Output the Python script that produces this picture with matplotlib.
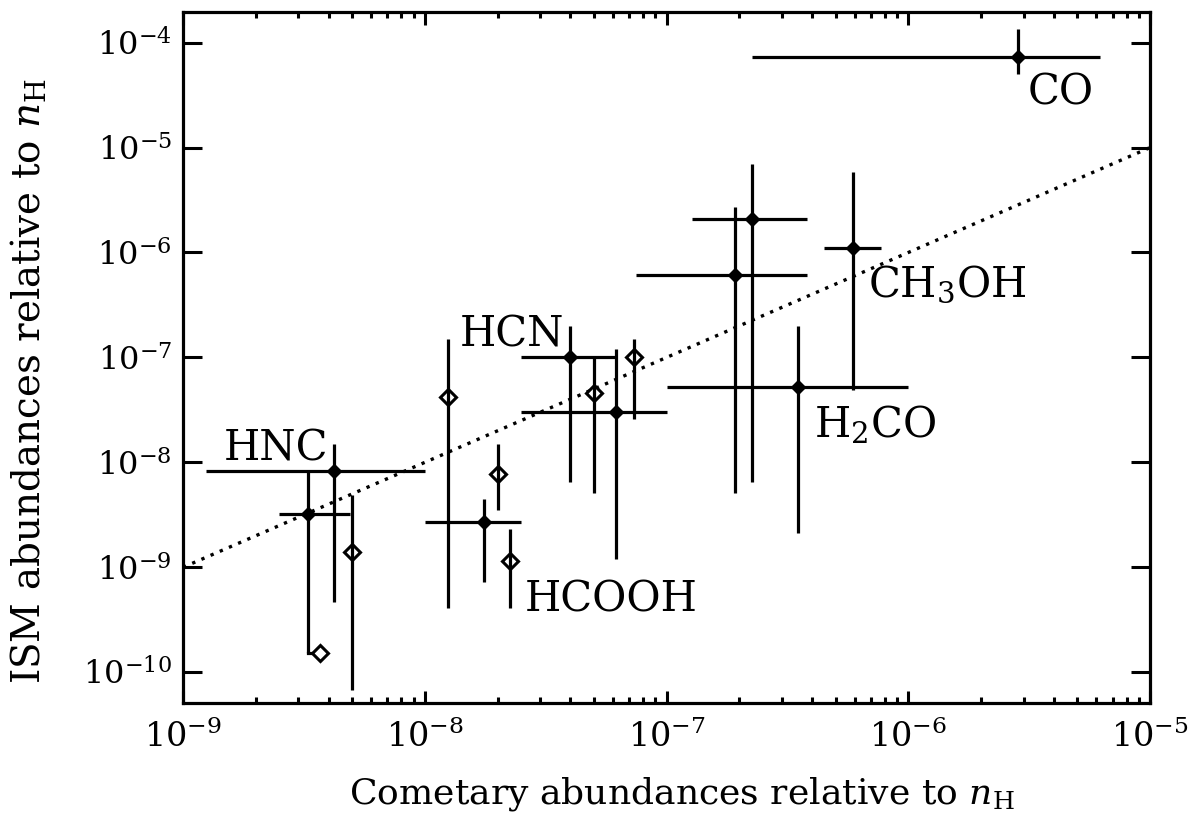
import matplotlib
matplotlib.use("Agg")
import matplotlib.pyplot as plt
from matplotlib.ticker import LogLocator, NullFormatter, NullLocator
import numpy as np

plt.rcParams['font.family'] = ['DejaVu Serif']
plt.rcParams['mathtext.fontset'] = 'dejavuserif'

# filled points: comet abundance, ISM abundance, and error bar ends
fx = [2.84e-6, 2.25e-7, 1.92e-7, 5.9e-7, 3.5e-7, 4.0e-8, 6.2e-8, 1.75e-8, 4.2e-9, 3.3e-9]
fy = [7.3e-5, 2.1e-6, 6.1e-7, 1.1e-6, 5.2e-8, 1.0e-7, 3.0e-8, 2.7e-9, 8.3e-9, 3.2e-9]
fx_lo = [2.25e-7, 1.27e-7, 7.5e-8, 4.5e-7, 1.0e-7, 2.5e-8, 2.5e-8, 1.0e-8, 1.25e-9, 2.5e-9]
fx_hi = [6.2e-6, 3.8e-7, 3.8e-7, 7.7e-7, 1.0e-6, 6.2e-8, 1.0e-7, 2.5e-8, 1.0e-8, 4.9e-9]
fy_lo = [5.0e-5, 6.5e-9, 5.1e-9, 4.9e-8, 2.1e-9, 6.5e-9, 1.2e-9, 7.2e-10, 4.7e-10, 1.52e-10]
fy_hi = [1.34e-4, 6.9e-6, 2.7e-6, 5.9e-6, 2.0e-7, 2.0e-7, 1.2e-7, 4.5e-9, 1.5e-8, 8.4e-9]

# open diamonds (vertical error bars only)
ox = [5.0e-8, 7.3e-8, 1.25e-8, 2.0e-8, 2.25e-8, 5.0e-9]
oy = [4.6e-8, 1.0e-7, 4.2e-8, 7.8e-9, 1.16e-9, 1.4e-9]
oy_lo = [5.1e-9, 2.6e-8, 4.1e-10, 3.5e-9, 4.1e-10, 6.8e-11]
oy_hi = [1.0e-7, 1.5e-7, 1.5e-7, 1.5e-8, 2.3e-9, 4.9e-9]

# lone open diamond joined to the HNC-region point
lone_x = [3.3e-9, 3.7e-9]
lone_y = [1.52e-10, 1.52e-10]

one_to_one = [1e-9, 1e-5]

labels = ["CO", "CH$_3$OH", "H$_2$CO", "HCN", "HNC", "HCOOH"]
label_x = [3.13e-6, 6.84e-7, 4.08e-7, 1.40e-8, 1.47e-9, 2.6e-8]
label_y = [2.55e-5, 3.79e-7, 1.72e-8, 1.27e-7, 1.04e-8, 3.78e-10]

fig = plt.figure(figsize=(11.91, 8.16), dpi=100)
ax = fig.add_axes([0.1537, 0.1381, 0.8119, 0.8476])
ax.set_xscale('log')
ax.set_yscale('log')
ax.set_xlim(1e-9, 1e-5)
ax.set_ylim(10**-10.296, 10**-3.705)

lw = 2.3
ax.plot(one_to_one, one_to_one, color='black', lw=2.4,
        linestyle=(0, (1, 2.0)), zorder=1)

fx = np.array(fx); fy = np.array(fy)
xerr = [fx - np.array(fx_lo), np.array(fx_hi) - fx]
yerr = [fy - np.array(fy_lo), np.array(fy_hi) - fy]
ax.errorbar(fx, fy, xerr=xerr, yerr=yerr, fmt='D', color='black',
            ms=7, elinewidth=lw, capsize=0, zorder=3)

ox = np.array(ox); oy = np.array(oy)
ax.plot(ox, oy, 'D', ms=8.5, mfc='white', mec='black', mew=2.2, zorder=2)
ax.errorbar(ox, oy, yerr=[oy - np.array(oy_lo), np.array(oy_hi) - oy],
            fmt='none', ecolor='black', elinewidth=lw, capsize=0, zorder=3)

ax.plot(lone_x, lone_y, color='black', lw=lw, zorder=2)
ax.plot(lone_x[1:], lone_y[1:], 'D', ms=8.5, mfc='white', mec='black', mew=2.2, zorder=4)

for t, x, y in zip(labels, label_x, label_y):
    ax.text(x, y, t, fontsize=30, va='baseline', ha='left')

for s in ax.spines.values():
    s.set_linewidth(2.3)
ax.xaxis.set_major_locator(LogLocator(base=10, numticks=10))
ax.xaxis.set_minor_locator(LogLocator(base=10, subs=np.arange(2, 10), numticks=20))
ax.xaxis.set_minor_formatter(NullFormatter())
ax.yaxis.set_major_locator(LogLocator(base=10, numticks=12))
ax.yaxis.set_minor_locator(NullLocator())
ax.tick_params(axis='both', which='both', direction='in', top=True, right=True, width=2.2)
ax.tick_params(axis='x', which='major', length=9, labelsize=24, pad=12)
ax.tick_params(axis='x', which='minor', length=4)
ax.tick_params(axis='y', which='major', length=14, labelsize=23, pad=8)

ax.set_xlabel('Cometary abundances relative to $n_{\\rm H}$', fontsize=26)
ax.set_ylabel('ISM abundances relative to $n_{\\rm H}$', fontsize=28)
ax.xaxis.set_label_coords(0.516, -0.104)
ax.yaxis.set_label_coords(-0.140, 0.466)

fig.savefig('out.png', dpi=100, facecolor='white')
